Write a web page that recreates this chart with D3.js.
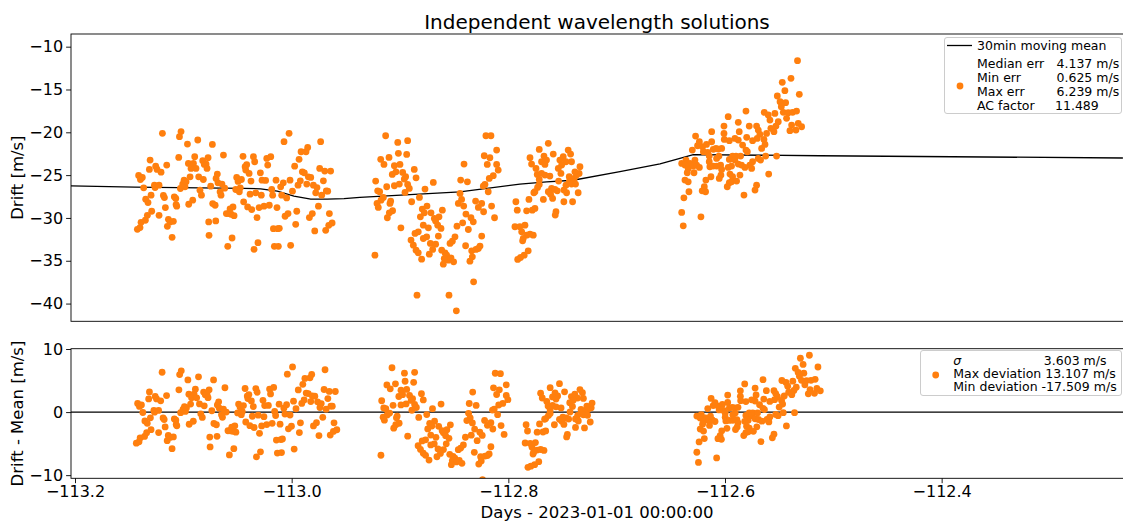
<!DOCTYPE html>
<html>
<head>
<meta charset="utf-8">
<script src="https://cdn.jsdelivr.net/npm/d3@7"></script>
<style>
  body { margin: 0; background: #fff; }
  svg { display: block; font-family: "DejaVu Sans", sans-serif; }
</style>
</head>
<body>
<svg id="chart" width="1123" height="523"></svg>
<script>
// Drift of each independent wavelength solution: [day, drift m/s], one array per night
const night1 = [
  [-113.1434,-31.33],[-113.1409,-31.13],[-113.1399,-30.51],[-113.1358,-30.27],[-113.1339,-29.69],[-113.1298,-29.22],
  [-113.1228,-29.69],[-113.1422,-25.04],[-113.1405,-25.51],[-113.1387,-25.27],[-113.1374,-26.48],[-113.1355,-27.81],
  [-113.1333,-28.20],[-113.1304,-27.34],[-113.1320,-24.34],[-113.1313,-23.24],[-113.1272,-26.17],[-113.1266,-26.45],
  [-113.1260,-23.95],[-113.1247,-24.34],[-113.1228,-26.17],[-113.1209,-24.65],[-113.1196,-20.12],[-113.1187,-27.38],
  [-113.1177,-27.62],[-113.1168,-28.79],[-113.1155,-23.83],[-113.1149,-30.98],[-113.1139,-30.16],[-113.1124,-30.47],
  [-113.1104,-32.26],[-113.1092,-30.39],[-113.1083,-27.54],[-113.1069,-27.73],[-113.1066,-28.44],[-113.1060,-28.63],
  [-113.1041,-22.93],[-113.1034,-20.51],[-113.1019,-19.92],[-113.1025,-26.56],[-113.1003,-26.05],[-113.0990,-25.59],
  [-113.0981,-26.37],[-113.0971,-25.78],[-113.0958,-21.37],[-113.0949,-23.63],[-113.0946,-28.40],[-113.0933,-25.20],
  [-113.0924,-24.22],[-113.0908,-27.93],[-113.0901,-23.63],[-113.0889,-22.85],[-113.0877,-24.22],[-113.0860,-20.90],
  [-113.0851,-25.20],[-113.0839,-26.76],[-113.0825,-27.34],[-113.0813,-23.32],[-113.0807,-25.51],[-113.0798,-23.75],
  [-113.0781,-23.71],[-113.0772,-24.22],[-113.0762,-22.97],[-113.0756,-30.47],[-113.0753,-32.03],[-113.0737,-26.29],
  [-113.0721,-21.41],[-113.0718,-28.32],[-113.0695,-28.52],[-113.0689,-30.35],[-113.0686,-25.39],[-113.0674,-24.88],
  [-113.0668,-25.90],[-113.0648,-26.95],[-113.0639,-27.34],[-113.0630,-26.05],[-113.0616,-22.66],[-113.0604,-26.52],
  [-113.0588,-29.49],[-113.0575,-33.32],[-113.0566,-29.49],[-113.0553,-28.94],[-113.0544,-29.57],[-113.0534,-32.34],
  [-113.0525,-28.71],[-113.0515,-29.73],[-113.0499,-26.68],[-113.0490,-25.27],[-113.0477,-25.74],[-113.0465,-26.95],
  [-113.0456,-26.48],[-113.0445,-25.51],[-113.0430,-22.81],[-113.0424,-28.12],[-113.0410,-24.02],[-113.0404,-24.41],
  [-113.0395,-23.79],[-113.0386,-28.71],[-113.0372,-24.80],[-113.0363,-27.23],[-113.0354,-25.70],[-113.0347,-29.02],
  [-113.0331,-22.85],[-113.0325,-33.67],[-113.0319,-23.44],[-113.0309,-27.07],[-113.0297,-29.96],[-113.0288,-32.89],
  [-113.0277,-28.79],[-113.0265,-24.73],[-113.0256,-27.34],[-113.0249,-25.59],[-113.0230,-28.63],[-113.0215,-25.62],
  [-113.0204,-23.05],[-113.0195,-23.83],[-113.0180,-28.52],[-113.0166,-22.85],[-113.0157,-26.68],[-113.0148,-27.34],
  [-113.0141,-31.25],[-113.0132,-33.32],[-113.0116,-25.59],[-113.0107,-28.79],[-113.0100,-31.25],[-113.0094,-33.32],
  [-113.0085,-31.21],[-113.0072,-26.37],[-113.0062,-27.34],[-113.0047,-25.90],[-113.0040,-21.09],[-113.0030,-29.80],
  [-113.0015,-27.66],[-113.0002,-29.49],[-112.9992,-20.12],[-112.9983,-25.59],[-112.9977,-33.20],[-112.9960,-26.87],
  [-112.9939,-23.95],[-112.9929,-30.74],[-112.9919,-29.22],[-112.9907,-26.17],[-112.9897,-23.16],[-112.9885,-25.66],
  [-112.9878,-22.27],[-112.9866,-24.61],[-112.9847,-24.73],[-112.9831,-22.27],[-112.9824,-26.05],[-112.9815,-21.76],
  [-112.9809,-25.20],[-112.9799,-29.96],[-112.9786,-25.27],[-112.9771,-29.49],[-112.9761,-26.17],[-112.9748,-31.52],
  [-112.9739,-27.07],[-112.9727,-26.45],[-112.9713,-28.63],[-112.9701,-24.22],[-112.9692,-21.09],[-112.9682,-27.34],
  [-112.9666,-25.66],[-112.9653,-24.53],[-112.9644,-31.45],[-112.9638,-26.84],[-112.9625,-26.87],[-112.9615,-30.86],
  [-112.9609,-29.49],[-112.9597,-24.53],[-112.9583,-30.59]
];

const night2 = [
  [-112.9074,-20.40],[-112.8959,-21.18],[-112.8865,-20.98],[-112.8953,-22.46],[-112.8874,-22.58],[-112.9121,-23.16],
  [-112.9042,-22.93],[-112.9090,-23.75],[-112.8991,-23.90],[-112.8938,-23.75],[-112.9011,-24.92],[-112.8976,-24.61],
  [-112.8912,-24.68],[-112.8884,-25.19],[-112.8897,-25.46],[-112.8802,-24.33],[-112.8785,-25.31],[-112.9169,-25.70],
  [-112.9064,-26.36],[-112.8991,-26.24],[-112.8944,-26.05],[-112.8865,-26.09],[-112.8849,-26.55],[-112.8890,-27.02],
  [-112.9150,-26.83],[-112.9131,-26.94],[-112.8700,-26.63],[-112.8621,-25.85],[-112.8827,-28.11],[-112.8753,-27.61],
  [-112.9026,-28.03],[-112.9033,-28.31],[-112.9096,-27.61],[-112.9118,-27.92],[-112.9156,-28.31],[-112.9144,-28.77],
  [-112.9008,-29.16],[-112.9039,-29.40],[-112.9058,-29.98],[-112.8929,-31.15],[-112.8681,-28.62],[-112.8726,-28.97],
  [-112.8706,-29.40],[-112.8643,-29.40],[-112.8535,-29.09],[-112.8744,-29.87],[-112.8611,-30.06],[-112.8567,-29.87],
  [-112.8599,-30.37],[-112.8579,-30.84],[-112.8716,-30.84],[-112.8668,-31.15],[-112.8548,-31.23],[-112.8764,-31.62],
  [-112.8795,-31.81],[-112.8833,-32.59],[-112.8811,-33.18],[-112.8684,-32.20],[-112.8716,-32.40],[-112.8573,-32.12],
  [-112.8649,-32.98],[-112.8599,-33.06],[-112.8785,-33.76],[-112.8764,-34.07],[-112.8627,-33.68],[-112.8659,-34.23],
  [-112.8732,-34.81],[-112.8541,-33.76],[-112.8510,-34.07],[-112.8494,-34.35],[-112.8517,-34.74],[-112.8479,-34.93],
  [-112.8453,-34.66],[-112.8428,-35.12],[-112.8526,-35.40],[-112.8440,-32.71],[-112.8415,-32.20],[-112.8462,-32.98],
  [-112.9176,-34.35],[-112.8776,-39.02],[-112.8472,-39.02],[-112.8402,-40.85],[-112.8361,-25.58],[-112.8297,-25.78],
  [-112.8329,-23.71],[-112.8367,-27.14],[-112.8383,-28.31],[-112.8352,-27.84],[-112.8332,-28.62],[-112.8311,-29.55],
  [-112.8396,-30.96],[-112.8342,-30.57],[-112.8263,-29.98],[-112.8288,-31.35],[-112.8241,-30.45],[-112.8314,-33.25],
  [-112.8161,-32.12],[-112.8256,-33.84],[-112.8215,-33.68],[-112.8177,-33.29],[-112.8193,-33.57],[-112.8250,-34.54],
  [-112.8273,-35.05],[-112.8238,-37.46],[-112.8219,-28.03],[-112.8193,-28.77],[-112.8161,-28.31],[-112.8143,-29.28],
  [-112.8121,-20.40],[-112.8073,-20.40],[-112.8137,-22.74],[-112.8083,-22.97],[-112.8108,-23.75],[-112.8019,-22.07],
  [-112.8019,-23.75],[-112.8004,-24.41],[-112.8051,-25.07],[-112.8089,-25.39],[-112.8130,-26.09],[-112.8146,-26.28],
  [-112.8099,-26.94],[-112.8067,-28.62],[-112.8039,-29.98]
];

const night3 = [
  [-112.7836,-28.11],[-112.7823,-29.09],[-112.7712,-27.84],[-112.7734,-29.17],[-112.7680,-29.09],[-112.7655,-28.89],
  [-112.7845,-31.03],[-112.7798,-31.03],[-112.7750,-30.84],[-112.7781,-31.62],[-112.7734,-32.01],[-112.7702,-31.89],
  [-112.7671,-32.01],[-112.7766,-32.40],[-112.7772,-32.67],[-112.7719,-33.84],[-112.7757,-34.35],[-112.7792,-34.62],
  [-112.7819,-34.85],[-112.7528,-21.29],[-112.7614,-22.00],[-112.7702,-22.97],[-112.7687,-23.71],[-112.7645,-24.22],
  [-112.7569,-22.78],[-112.7545,-23.24],[-112.7592,-23.44],[-112.7560,-23.75],[-112.7481,-22.54],[-112.7418,-23.24],
  [-112.7386,-22.85],[-112.7339,-22.07],[-112.7316,-22.54],[-112.7360,-23.44],[-112.7307,-23.44],[-112.7401,-23.83],
  [-112.7433,-24.22],[-112.7408,-24.80],[-112.7633,-24.92],[-112.7592,-24.80],[-112.7560,-24.99],[-112.7513,-25.11],
  [-112.7614,-25.50],[-112.7614,-26.09],[-112.7630,-26.44],[-112.7655,-26.94],[-112.7665,-27.06],[-112.7430,-25.70],
  [-112.7497,-26.55],[-112.7465,-26.67],[-112.7443,-26.83],[-112.7528,-26.94],[-112.7506,-27.22],[-112.7487,-27.72],
  [-112.7575,-27.84],[-112.7455,-29.28],[-112.7462,-29.67],[-112.7380,-28.11],[-112.7297,-28.11],[-112.7380,-26.75],
  [-112.7360,-26.17],[-112.7329,-25.19],[-112.7329,-25.78],[-112.7282,-25.39],[-112.7259,-24.99],[-112.7235,-24.80],
  [-112.7227,-24.02],[-112.7275,-24.61],[-112.7291,-25.78],[-112.7307,-26.05],[-112.7269,-26.05],[-112.7244,-27.06],
  [-112.7354,-27.06]
];

const night4 = [
  [-112.5159,-11.63],[-112.5221,-13.70],[-112.5304,-14.16],[-112.5279,-15.14],[-112.5142,-15.57],[-112.5351,-15.76],
  [-112.5325,-16.42],[-112.5272,-16.54],[-112.5313,-17.01],[-112.5649,-17.52],[-112.5475,-17.67],[-112.5437,-17.98],
  [-112.5374,-17.79],[-112.5294,-17.67],[-112.5247,-17.71],[-112.5206,-17.67],[-112.5168,-17.52],[-112.5263,-18.37],
  [-112.5818,-18.18],[-112.5722,-18.84],[-112.5421,-18.57],[-112.5342,-18.76],[-112.5364,-19.27],[-112.5152,-18.96],
  [-112.5120,-19.35],[-112.5215,-19.15],[-112.5174,-19.74],[-112.5231,-19.81],[-112.5412,-19.54],[-112.5383,-19.93],
  [-112.5618,-19.27],[-112.5548,-19.27],[-112.5532,-19.74],[-112.5516,-20.24],[-112.5453,-20.13],[-112.5478,-20.83],
  [-112.5468,-21.41],[-112.5500,-21.88],[-112.5542,-20.71],[-112.5586,-20.98],[-112.5642,-20.59],[-112.5713,-19.93],
  [-112.5722,-20.91],[-112.5754,-20.71],[-112.5858,-19.27],[-112.5858,-20.13],[-112.5855,-20.83],[-112.5807,-20.98],
  [-112.5975,-19.93],[-112.6128,-20.44],[-112.6109,-21.57],[-112.6159,-22.07],[-112.6062,-21.68],[-112.6024,-21.41],
  [-112.5975,-21.10],[-112.6013,-22.35],[-112.5960,-21.99],[-112.5934,-21.88],[-112.5912,-21.96],[-112.5880,-21.88],
  [-112.5906,-22.78],[-112.5998,-22.78],[-112.5998,-23.44],[-112.5992,-24.02],[-112.5960,-23.94],[-112.5928,-23.94],
  [-112.5890,-23.83],[-112.5880,-24.33],[-112.5776,-22.78],[-112.5744,-22.78],[-112.5807,-23.17],[-112.5754,-23.24],
  [-112.5700,-22.78],[-112.5681,-21.49],[-112.5649,-22.07],[-112.5636,-22.27],[-112.5722,-23.71],[-112.5786,-23.94],
  [-112.5818,-24.10],[-112.5691,-23.83],[-112.5612,-23.83],[-112.5586,-23.44],[-112.5532,-23.05],[-112.5510,-23.24],
  [-112.5462,-22.78],[-112.5358,-22.78],[-112.5433,-24.88],[-112.5801,-24.88],[-112.5776,-25.19],[-112.5706,-24.99],
  [-112.5887,-24.99],[-112.5903,-25.39],[-112.5807,-25.89],[-112.5786,-25.78],[-112.5738,-25.70],[-112.5827,-26.36],
  [-112.5982,-25.19],[-112.6030,-25.58],[-112.6045,-26.36],[-112.6065,-26.83],[-112.6033,-26.94],[-112.5548,-26.17],
  [-112.5563,-26.75],[-112.5668,-27.33],[-112.6077,-29.87],[-112.6260,-23.63],[-112.6219,-23.24],[-112.6181,-23.63],
  [-112.6229,-23.83],[-112.6198,-24.22],[-112.6150,-23.94],[-112.6118,-23.83],[-112.6092,-24.10],[-112.6134,-23.24],
  [-112.6207,-24.72],[-112.6143,-24.72],[-112.6229,-25.58],[-112.6198,-25.78],[-112.6191,-26.94],[-112.6239,-27.65],
  [-112.6260,-29.36],[-112.6245,-30.92],[-112.6054,-22.27],[-112.6092,-21.10],[-112.5928,-23.05],[-112.5659,-24.10],
  [-112.5595,-24.22]
];

// 30 minute moving mean of the drift
const meanDays  = [-113.2065,-113.1461,-113.0421,-113.0262,-113.0104,-112.9946,-112.9786,-112.9629,-112.9470,-112.9319,
                   -112.8368,-112.7798,-112.7543,-112.7293,-112.6847,-112.6466,-112.6277,-112.6150,-112.4946,-112.2066];
const meanDrift = [-26.25,-26.4,-26.55,-26.6,-26.87,-27.45,-27.8,-27.8,-27.75,-27.6,
                   -26.95,-26.05,-25.8,-25.6,-24.6,-23.7,-23.05,-22.6,-22.74,-23.0];

// Axis ticks (bottom panel)
const xTicks = [-113.2, -113.0, -112.8, -112.6, -112.4];
const yTicksTop = [-40, -35, -30, -25, -20, -15, -10];
const yTicksBottom = [-10, 0, 10];

// Legend statistics
const errLabels = ["Median err", "Min err", "Max err", "AC factor"];
const errValues = ["4.137 m/s", "0.625 m/s", "6.239 m/s", "11.489"];
const devLines = ["Max deviation 13.107 m/s", "Min deviation -17.509 m/s"];
const sigmaValue = "3.603 m/s";

const ORANGE = "#ff7f0e";
const svg = d3.select("#chart");

const left = 71, right = 1123.5;
const top1 = 34, bottom1 = 321.3;
const top2 = 348.7, bottom2 = 478.3;

// The top panel spans one full day of the moving-mean grid; the bottom panel has its own limits
const xTop = d3.scaleLinear().domain([-113.2065, -112.2065]).range([left, 1123]);
const xBot = d3.scaleLinear().domain([-113.2037, -112.2326]).range([left, 1123]);
const yTop = d3.scaleLinear().domain([-42.07, -8.52]).range([bottom1, top1]);
const yBot = d3.scaleLinear().domain([-10.5, 10.05]).range([bottom2, top2]);

const points = [...night1, ...night2, ...night3, ...night4];

// Residuals with respect to the moving mean (linear interpolation along the mean curve)
const meanAt = d3.scaleLinear().domain(meanDays).range(meanDrift).clamp(true);
const residuals = points.map(([t, v]) => [t, v - meanAt(t)]);

const defs = svg.append("defs");
defs.append("clipPath").attr("id", "clipTop").append("rect")
  .attr("x", left).attr("y", top1).attr("width", right - left).attr("height", bottom1 - top1);
defs.append("clipPath").attr("id", "clipBot").append("rect")
  .attr("x", left).attr("y", top2).attr("width", right - left).attr("height", bottom2 - top2);

// ---- Top panel ----
const gTop = svg.append("g").attr("clip-path", "url(#clipTop)");
gTop.append("path")
  .datum(meanDays.map((d, i) => [d, meanDrift[i]]))
  .attr("fill", "none").attr("stroke", "#000").attr("stroke-width", 1.3)
  .attr("d", d3.line().x(d => xTop(d[0])).y(d => yTop(d[1])));
gTop.selectAll("circle").data(points).join("circle")
  .attr("cx", d => xTop(d[0])).attr("cy", d => yTop(d[1])).attr("r", 3.4).attr("fill", ORANGE);

// ---- Bottom panel ----
const gBot = svg.append("g").attr("clip-path", "url(#clipBot)");
gBot.append("line")
  .attr("x1", left).attr("x2", right).attr("y1", yBot(0)).attr("y2", yBot(0))
  .attr("stroke", "#000").attr("stroke-width", 1.3);
gBot.selectAll("circle").data(residuals).join("circle")
  .attr("cx", d => xBot(d[0])).attr("cy", d => yBot(d[1])).attr("r", 3.4).attr("fill", ORANGE);

// ---- Axes ----
function styleAxis(g) {
  g.select(".domain").remove();
  g.selectAll(".tick line").attr("stroke", "#000").attr("stroke-width", 0.9);
  g.selectAll(".tick text").attr("fill", "#000").attr("font-size", 16)
    .attr("font-family", "DejaVu Sans, sans-serif");
}

svg.append("g").attr("transform", `translate(${left},0)`)
  .call(d3.axisLeft(yTop).tickValues(yTicksTop).tickFormat(d3.format("d")).tickSize(4.9).tickPadding(3))
  .call(styleAxis);
svg.append("g").attr("transform", `translate(${left},0)`)
  .call(d3.axisLeft(yBot).tickValues(yTicksBottom).tickFormat(d3.format("d")).tickSize(4.9).tickPadding(3))
  .call(styleAxis);
svg.append("g").attr("transform", `translate(0,${bottom2})`)
  .call(d3.axisBottom(xBot).tickValues(xTicks).tickFormat(d3.format(".1f")).tickSize(4.9).tickPadding(2.5))
  .call(styleAxis);

// Frames
[[top1, bottom1], [top2, bottom2]].forEach(([t, b]) => {
  svg.append("rect").attr("x", left).attr("y", t).attr("width", right - left).attr("height", b - t)
    .attr("fill", "none").attr("stroke", "#000").attr("stroke-width", 0.9);
});

// ---- Titles and labels ----
svg.append("text").attr("x", 597).attr("y", 22).attr("text-anchor", "middle")
  .attr("dominant-baseline", "central").attr("font-size", 20).attr("fill", "#000")
  .text("Independent wavelength solutions");
svg.append("text").attr("x", 597).attr("y", 512).attr("text-anchor", "middle")
  .attr("dominant-baseline", "central").attr("font-size", 16.5).attr("fill", "#000")
  .text("Days - 2023-01-01 00:00:00");
svg.append("text").attr("transform", `translate(17,${(top1 + bottom1) / 2}) rotate(-90)`)
  .attr("text-anchor", "middle").attr("dominant-baseline", "central")
  .attr("font-size", 16.5).attr("fill", "#000").text("Drift [m/s]");
svg.append("text").attr("transform", `translate(17,${(top2 + bottom2) / 2}) rotate(-90)`)
  .attr("text-anchor", "middle").attr("dominant-baseline", "central")
  .attr("font-size", 16.5).attr("fill", "#000").text("Drift - Mean [m/s]");

// ---- Legends ----
const lg1 = svg.append("g").attr("font-size", 12.5).attr("fill", "#000");
lg1.append("rect").attr("x", 944.5).attr("y", 37.5).attr("width", 177).attr("height", 76)
  .attr("rx", 2.5).attr("fill", "#fff").attr("fill-opacity", 0.8).attr("stroke", "#ccc");
lg1.append("line").attr("x1", 947).attr("x2", 972).attr("y1", 45.5).attr("y2", 45.5)
  .attr("stroke", "#000").attr("stroke-width", 1.3);
lg1.append("text").attr("x", 977).attr("y", 45.5).attr("dominant-baseline", "central")
  .text("30min moving mean");
lg1.append("circle").attr("cx", 960).attr("cy", 86).attr("r", 3.4).attr("fill", ORANGE);
errLabels.forEach((lab, i) => {
  const yy = 63.3 + i * 14;
  lg1.append("text").attr("x", 977).attr("y", yy).attr("dominant-baseline", "central").text(lab);
  lg1.append("text").attr("x", i === 3 ? 1055 : 1056.5).attr("y", yy).attr("dominant-baseline", "central").text(errValues[i]);
});

const lg2 = svg.append("g").attr("font-size", 12.5).attr("fill", "#000");
lg2.append("rect").attr("x", 920.5).attr("y", 350.5).attr("width", 201).attr("height", 45)
  .attr("rx", 2.5).attr("fill", "#fff").attr("fill-opacity", 0.8).attr("stroke", "#ccc");
lg2.append("circle").attr("cx", 935.7).attr("cy", 375).attr("r", 3.4).attr("fill", ORANGE);
lg2.append("text").attr("x", 953.3).attr("y", 360).attr("dominant-baseline", "central")
  .attr("font-style", "italic").text("σ");
lg2.append("text").attr("x", 1106.5).attr("y", 360).attr("text-anchor", "end")
  .attr("dominant-baseline", "central").text(sigmaValue);
devLines.forEach((line, i) => {
  lg2.append("text").attr("x", 953.3).attr("y", 373.4 + i * 13.4).attr("dominant-baseline", "central").text(line);
});
</script>
</body>
</html>
